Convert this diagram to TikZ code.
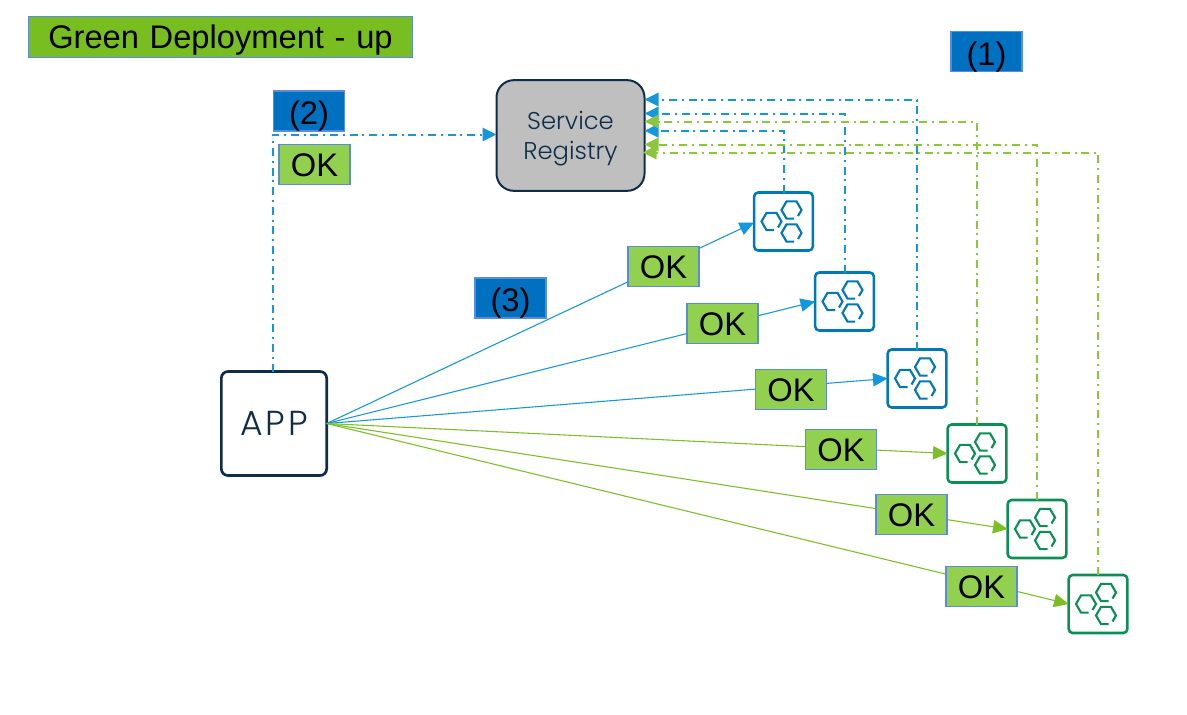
\documentclass[tikz,border=0pt]{standalone}
\usepackage{fontspec}
\setmainfont{Liberation Sans}
\newfontfamily\regfont{Poppins Light}
\newfontfamily\appfont[LetterSpace=9]{Poppins Light}
\usetikzlibrary{arrows.meta,calc}
\definecolor{navy}{HTML}{0F2D4A}
\definecolor{regfill}{HTML}{BFBFBF}
\definecolor{okfill}{HTML}{92D050}
\definecolor{okedge}{HTML}{5B8BDD}
\definecolor{numfill}{HTML}{0070C0}
\definecolor{titlefill}{HTML}{78BE20}
\definecolor{linkblue}{HTML}{1497DC}
\definecolor{linkgreen}{HTML}{7CBF24}
\definecolor{dashgreen}{HTML}{8CC63F}
\definecolor{iconblue}{HTML}{0079B8}
\definecolor{icongreen}{HTML}{0A8F55}
\newcommand{\hexa}[3]{\draw[#1,line width=1.6pt,shift={(#2,#3)}] (2.5,8.6) -- (-5,8.6) -- (-10,0) -- (-5,-8.6) -- (5,-8.6) -- (10,0) -- (6.5,6);}
\newcommand{\hexset}[2]{\begin{scope}[shift={(#2)}]\hexa{#1}{-12}{0}\hexa{#1}{8}{-11.5}\hexa{#1}{8}{11.5}\end{scope}}
\newcommand{\numtext}[1]{\raisebox{-1.5pt}{#1}}
\tikzset{
  x=0.75pt,y=-0.75pt,
  tag/.style={draw=okedge,line width=1.1pt,inner sep=0pt,outer sep=0pt,font=\fontsize{24.5}{28}\selectfont,text=black,text height=17.5pt,text depth=0pt},
  oktag/.style={tag,fill=okfill,minimum width=53pt,minimum height=30pt},
  numtag/.style={tag,fill=numfill,minimum width=53pt,minimum height=30pt},
  icon/.style={draw=#1,fill=white,line width=1.9pt,rounded corners=3pt,minimum width=44pt,minimum height=43.5pt,inner sep=0pt,outer sep=0pt},
  reglink/.style={draw=#1,line width=1.5pt,dash pattern=on 6pt off 3.6pt on 1.5pt off 3.6pt,-{Triangle[length=10.5pt,width=10pt,fill=#1]}},
  reqlink/.style={draw=#1,line width=0.8pt,-{Triangle[length=11pt,width=10pt,fill=#1]}},
}
\begin{document}
\begin{tikzpicture}
\useasboundingbox (0,0) rectangle (1187,714);
% main boxes
\node[draw=navy,fill=regfill,line width=1.5pt,rounded corners=13pt,minimum width=111pt,minimum height=83pt,inner sep=0pt,outer sep=0pt,align=center,text=navy,font=\regfont\fontsize{18.2}{22.5}\selectfont] (reg) at (570.5,135.5) {\rule{0pt}{18pt}Service\\Registry};
\node[draw=navy,fill=white,line width=2pt,rounded corners=5pt,minimum width=79pt,minimum height=78pt,inner sep=0pt,outer sep=0pt,text=navy,font=\appfont\fontsize{26}{28}\selectfont] (app) at (274,423.5) {APP};
% icons
\node[icon=iconblue] (i1) at (783.5,221.5) {};
\node[icon=iconblue] (i2) at (844.5,301.5) {};
\node[icon=iconblue] (i3) at (917,378.5) {};
\node[icon=icongreen] (i4) at (977,453.5) {};
\node[icon=icongreen] (i5) at (1037,529) {};
\node[icon=icongreen] (i6) at (1098,604) {};
\hexset{iconblue}{i1.center}
\hexset{iconblue}{i2.center}
\hexset{iconblue}{i3.center}
\hexset{icongreen}{i4.center}
\hexset{icongreen}{i5.center}
\hexset{icongreen}{i6.center}
% registration links
\draw[reglink=linkblue] (i1.north) |- ($(reg.east)+(0,-4.8)$);
\draw[reglink=linkblue] (i2.north) |- ($(reg.east)+(0,-22)$);
\draw[reglink=linkblue] (i3.north) |- ($(reg.east)+(0,-36)$);
\draw[reglink=dashgreen] (i4.north) |- ($(reg.east)+(0,-14)$);
\draw[reglink=dashgreen] (i5.north) |- ($(reg.east)+(0,9)$);
\draw[reglink=dashgreen] (i6.north) |- ($(reg.east)+(-2,17)$);
\draw[reglink=linkblue] (app.north -| 273,0) |- ($(reg.west)+(0,-1)$);
% request links
\draw[reqlink=linkblue] (app.east) -- ($(i1.west)+(0,1)$);
\draw[reqlink=linkblue] (app.east) -- (i2.west);
\draw[reqlink=linkblue] (app.east) -- (i3.west);
\draw[reqlink=linkgreen] (app.east) -- (i4.west);
\draw[reqlink=linkgreen] (app.east) -- (i5.west);
\draw[reqlink=linkgreen] (app.east) -- (i6.west);
% labels
\node[tag,fill=titlefill,minimum width=288pt,minimum height=31pt] (title) at (220.5,37) {Green\hspace{0.05em} Deployment\hspace{0.05em} -\hspace{0.05em} up};
\node[numtag] (n1) at (986.5,51.5) {\numtext{(1)}};
\node[numtag] (n2) at (309,111) {\numtext{(2)}};
\node[numtag] (n3) at (510.5,298) {\numtext{(3)}};
\node[oktag] (ok0) at (314.5,164.5) {OK};
\node[oktag] (ok1) at (663.5,266.5) {OK};
\node[oktag] (ok2) at (722.5,323.5) {OK};
\node[oktag] (ok3) at (791,389.5) {OK};
\node[oktag] (ok4) at (841,449.5) {OK};
\node[oktag] (ok5) at (911.5,514.5) {OK};
\node[oktag] (ok6) at (981.5,586.5) {OK};
\end{tikzpicture}
\end{document}
